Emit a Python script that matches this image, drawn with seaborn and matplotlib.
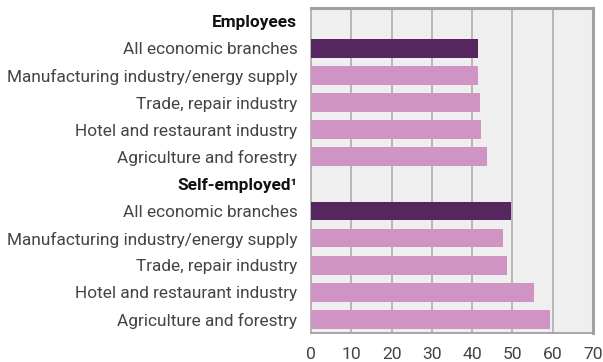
import matplotlib
matplotlib.use("Agg")
import matplotlib.pyplot as plt
import seaborn as sns
import pandas as pd

# Share of persons working 48+ hours, by branch (%)
branches = [
    "All economic branches",
    "Manufacturing industry/energy supply",
    "Trade, repair industry",
    "Hotel and restaurant industry",
    "Agriculture and forestry",
]
employees = [41.6, 41.4, 41.9, 42.1, 43.6]
self_employed = [49.8, 47.8, 48.6, 55.3, 59.3]
groups = ["Employees", "Self-employed\u00b9"]

sns.set_theme(style="white")
plt.rcParams["font.family"] = ["Roboto", "DejaVu Sans"]

rows = []
order = []
tick_text = []
headers = []
for g, vals in zip(groups, [employees, self_employed]):
    hid = f"{g}-header"
    order.append(hid)
    tick_text.append(g)
    headers.append(len(order) - 1)
    for i, (b, v) in enumerate(zip(branches, vals)):
        rid = f"{g}-{i}"
        order.append(rid)
        tick_text.append(b)
        rows.append({"row": rid, "value": v, "kind": "total" if i == 0 else "branch"})
df = pd.DataFrame(rows)

fig = plt.figure(figsize=(6.03, 3.62), dpi=100)
ax = fig.add_axes([0.516, 0.080, 0.467, 0.899])
ax.set_facecolor("#efefef")

sns.barplot(data=df, x="value", y="row", hue="kind", order=order,
            palette={"total": "#56275e", "branch": "#d094c4"},
            dodge=False, width=0.69, orient="h", legend=False,
            saturation=1, linewidth=0, ax=ax, zorder=3)

ax.set_xlim(0, 70)
ax.set_xticks(range(0, 71, 10))
ax.set_ylim(len(order) - 0.5, -0.5)
ax.set_xlabel("")
ax.set_ylabel("")
ax.xaxis.grid(True, color="#b3b3b3", linewidth=1.3, zorder=0)
ax.set_axisbelow(True)

ax.set_yticks(range(len(order)))
ax.set_yticklabels(tick_text)
for i, lbl in enumerate(ax.get_yticklabels()):
    lbl.set_fontsize(12.4)
    if i in headers:
        lbl.set_fontweight("bold")
        lbl.set_color("#111111")
    else:
        lbl.set_fontweight("normal")
        lbl.set_color("#444444")
ax.tick_params(axis="y", length=0, pad=10)
ax.tick_params(axis="x", length=4, width=1.2, color="#a0a0a0",
               labelsize=12.6, labelcolor="#444444", pad=6, direction="out")
for lbl in ax.get_xticklabels():
    lbl.set_fontweight("normal")

for side in ["top", "right"]:
    ax.spines[side].set_color("#a0a0a0")
    ax.spines[side].set_linewidth(2.2)
ax.spines["bottom"].set_color("#a0a0a0")
ax.spines["bottom"].set_linewidth(1.3)
ax.spines["left"].set_color("#b3b3b3")
ax.spines["left"].set_linewidth(1.3)

fig.savefig("out.png", dpi=100)
